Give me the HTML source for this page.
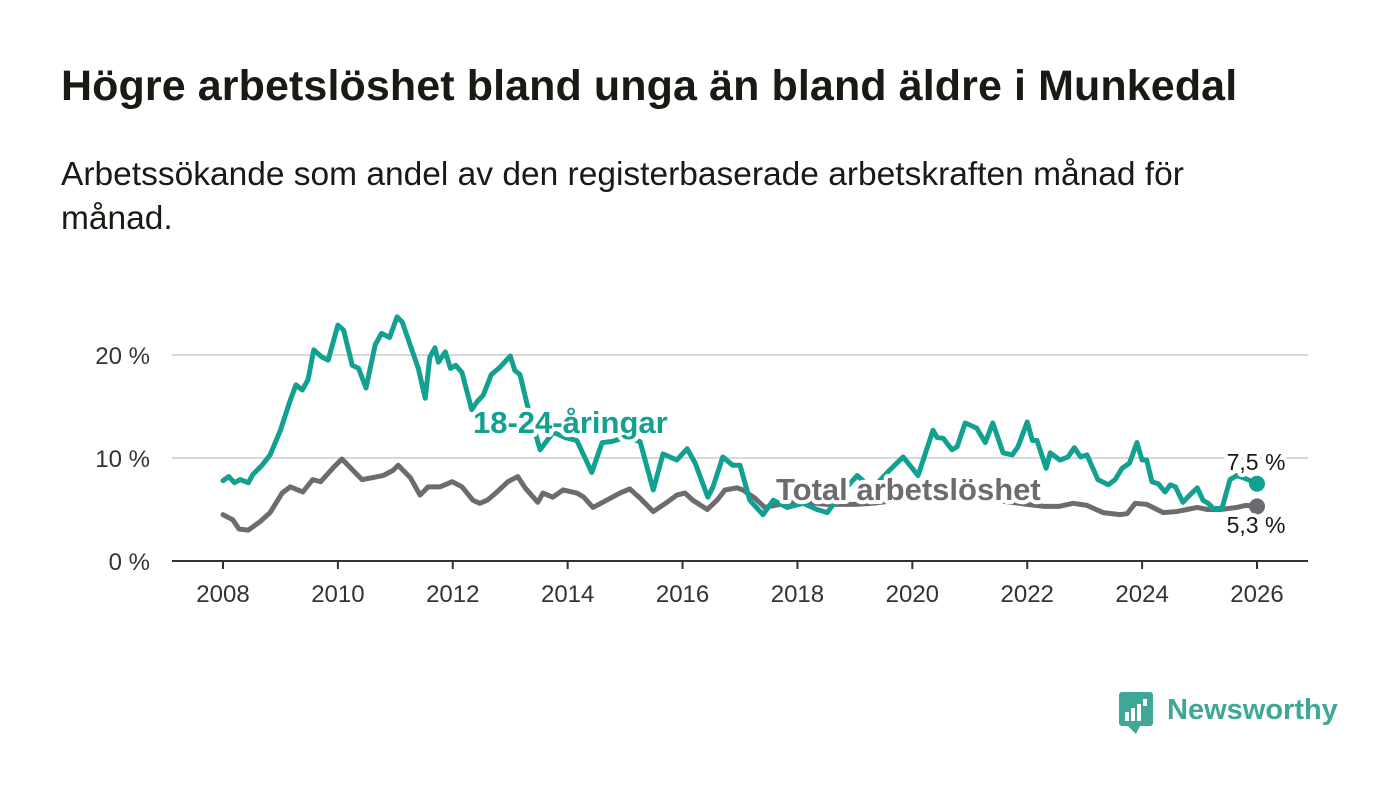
<!DOCTYPE html>
<html><head><meta charset="utf-8">
<style>
body{margin:0;background:#fff;font-family:"Liberation Sans",sans-serif;}
#wrap{position:relative;width:1400px;height:794px;overflow:hidden;}
h1{position:absolute;left:61px;top:62px;margin:0;font-size:43px;font-weight:bold;color:#1a1a14;letter-spacing:0.1px;}
.sub{position:absolute;left:61px;top:153px;margin:0;font-size:33.5px;line-height:44px;color:#1a1a14;width:1200px;}
svg{position:absolute;left:0;top:0;}
</style></head><body>
<div id="wrap">
<h1>Högre arbetslöshet bland unga än bland äldre i Munkedal</h1>
<p class="sub">Arbetssökande som andel av den registerbaserade arbetskraften månad för månad.</p>
<svg id="chart" width="1400" height="794"></svg>
</div>
<script>
const youthDates=[2008.0,2008.1,2008.2,2008.3,2008.44,2008.52,2008.68,2008.82,2009.0,2009.17,2009.27,2009.38,2009.48,2009.58,2009.72,2009.83,2010.0,2010.1,2010.25,2010.36,2010.49,2010.65,2010.76,2010.9,2011.03,2011.12,2011.4,2011.52,2011.6,2011.69,2011.75,2011.87,2011.96,2012.05,2012.16,2012.33,2012.43,2012.53,2012.67,2012.82,2013.0,2013.08,2013.17,2013.29,2013.52,2013.75,2013.95,2014.16,2014.42,2014.6,2014.77,2015.0,2015.26,2015.49,2015.66,2015.9,2016.08,2016.22,2016.44,2016.53,2016.7,2016.87,2017.0,2017.17,2017.4,2017.58,2017.82,2018.1,2018.34,2018.52,2018.75,2019.04,2019.3,2019.6,2019.84,2020.1,2020.36,2020.43,2020.54,2020.69,2020.78,2020.92,2021.12,2021.27,2021.4,2021.58,2021.74,2021.84,2022.0,2022.09,2022.17,2022.33,2022.4,2022.57,2022.71,2022.82,2022.93,2023.04,2023.23,2023.41,2023.53,2023.65,2023.78,2023.91,2024.0,2024.08,2024.17,2024.28,2024.4,2024.49,2024.58,2024.71,2024.83,2024.96,2025.06,2025.15,2025.24,2025.39,2025.53,2025.65,2025.8,2026.0];
const youthValues=[7.8,8.2,7.6,7.9,7.6,8.4,9.3,10.3,12.7,15.6,17.1,16.6,17.6,20.5,19.8,19.5,22.9,22.4,19.0,18.7,16.8,21.0,22.1,21.7,23.7,23.2,18.7,15.8,19.8,20.7,19.3,20.3,18.7,19.0,18.3,14.7,15.5,16.1,18.1,18.8,19.9,18.5,18.1,15.3,10.8,12.5,12.0,11.7,8.6,11.5,11.6,12.0,11.6,6.9,10.4,9.8,10.9,9.5,6.2,7.2,10.1,9.3,9.3,5.9,4.5,5.9,5.2,5.6,5.0,4.7,6.5,8.3,7.0,8.8,10.1,8.3,12.7,12.0,11.9,10.8,11.1,13.4,12.9,11.5,13.4,10.5,10.3,11.1,13.5,11.7,11.7,9.0,10.5,9.8,10.1,11.0,10.1,10.3,7.9,7.4,7.9,9.0,9.5,11.5,9.8,9.8,7.7,7.5,6.7,7.4,7.2,5.7,6.4,7.1,5.9,5.6,5.1,5.1,7.9,8.3,8.0,7.5];
const totalDates=[2008.0,2008.17,2008.28,2008.44,2008.64,2008.82,2009.03,2009.17,2009.39,2009.56,2009.7,2009.91,2010.07,2010.21,2010.42,2010.61,2010.79,2010.96,2011.05,2011.26,2011.43,2011.57,2011.78,2011.99,2012.16,2012.35,2012.47,2012.6,2012.77,2012.96,2013.13,2013.26,2013.48,2013.57,2013.74,2013.92,2014.16,2014.28,2014.44,2014.61,2014.91,2015.08,2015.26,2015.49,2015.73,2015.9,2016.04,2016.18,2016.43,2016.6,2016.74,2016.95,2017.05,2017.26,2017.43,2017.7,2018.0,2018.5,2019.0,2019.3,2019.6,2020.0,2020.4,2020.8,2021.2,2021.6,2022.0,2022.3,2022.55,2022.8,2023.04,2023.32,2023.62,2023.74,2023.88,2024.08,2024.37,2024.6,2024.78,2024.96,2025.14,2025.36,2025.65,2025.8,2026.0];
const totalValues=[4.5,4.0,3.1,3.0,3.8,4.7,6.6,7.2,6.7,7.9,7.7,9.0,9.9,9.1,7.9,8.1,8.3,8.8,9.3,8.1,6.4,7.2,7.2,7.7,7.2,5.9,5.6,5.9,6.7,7.7,8.2,7.1,5.7,6.6,6.2,6.9,6.6,6.2,5.2,5.7,6.6,7.0,6.1,4.8,5.7,6.4,6.6,5.9,5.0,5.9,6.9,7.1,6.9,6.1,5.2,5.5,5.8,5.5,5.5,5.6,5.8,6.2,6.3,6.2,6.1,5.8,5.5,5.3,5.3,5.6,5.4,4.7,4.5,4.6,5.6,5.5,4.7,4.8,5.0,5.2,5.0,5.0,5.2,5.4,5.3];
const yTicks=[0,10,20];
const xTicks=[2008,2010,2012,2014,2016,2018,2020,2022,2024,2026];

const svg=document.getElementById('chart');
const NS='http://www.w3.org/2000/svg';
const X=y=>223+(y-2008)*(1257-223)/18;
const Y=v=>561-v*10.3;
function mk(t,a,p){const e=document.createElementNS(NS,t);for(const k in a)e.setAttribute(k,a[k]);(p||svg).appendChild(e);return e;}

yTicks.forEach(v=>{
  if(v>0){const g=mk('line',{x1:172,x2:1308,y1:Y(v),y2:Y(v),stroke:'#d9d9d9','stroke-width':2});
  
  }
  const t=mk('text',{x:150,y:Y(v)+9,'text-anchor':'end','font-size':24,fill:'#333','font-family':'Liberation Sans, sans-serif'});
  t.textContent=v+' %';
  
  
});
const ax=mk('line',{x1:172,x2:1308,y1:561,y2:561,stroke:'#333','stroke-width':2});


xTicks.forEach(yr=>{
  const tk=mk('line',{x1:X(yr),x2:X(yr),y1:561,y2:569,stroke:'#333','stroke-width':2});
  
  
  const t=mk('text',{x:X(yr),y:602,'text-anchor':'middle','font-size':24,fill:'#333','font-family':'Liberation Sans, sans-serif'});
  t.textContent=yr;
  
  
});
function series(d,v,c,name){
  const p=mk('polyline',{points:d.map((x,i)=>X(x)+','+Y(v[i])).join(' '),fill:'none',stroke:c,'stroke-width':5,'stroke-linejoin':'round','stroke-linecap':'round'});
  
  
  const n=d.length-1;
  const dot=mk('circle',{cx:X(d[n]),cy:Y(v[n]),r:8,fill:c});
  
  
  return [X(d[n]),Y(v[n]),v[n]];
}
const eT=series(totalDates,totalValues,'#6d6b70','total');
const eY=series(youthDates,youthValues,'#12a091','youth');
function lab(x,y,txt,c,size,w,name,anchor){
  const t=mk('text',{x:x,y:y,'font-size':size,'font-weight':w,fill:c,stroke:'#fff','stroke-width':8,'paint-order':'stroke','stroke-linejoin':'round','text-anchor':anchor||'start','font-family':'Liberation Sans, sans-serif'});
  t.textContent=txt;
  
  
}
lab(473,433,'18-24-åringar','#12a091',31,'bold','youth-series-label');
lab(776,500,'Total arbetslöshet','#6d6b70',31,'bold','total-series-label');
lab(1256,470,eY[2].toFixed(1).replace('.',',')+' %','#1a1a14',23,'normal','youth-end-value','middle');
lab(1256,533,eT[2].toFixed(1).replace('.',',')+' %','#1a1a14',23,'normal','total-end-value','middle');
const lg=mk('g',{});


mk('rect',{x:1119,y:692,width:34,height:34,rx:3,fill:'#3ea796'},lg);
mk('path',{d:'M1128 726 L1136 734 L1140 726 Z',fill:'#3ea796'},lg);
[[1125,712,4,9],[1131,708,4,13],[1137,704,4,17],[1143,699,4,7]].forEach(r=>mk('rect',{x:r[0],y:r[1],width:r[2],height:r[3],fill:'#fff'},lg));
const lt=mk('text',{x:1167,y:719,'font-size':29,'font-weight':'bold',fill:'#3ea796','font-family':'Liberation Sans, sans-serif'},lg);
lt.textContent='Newsworthy';
</script>
</body></html>
